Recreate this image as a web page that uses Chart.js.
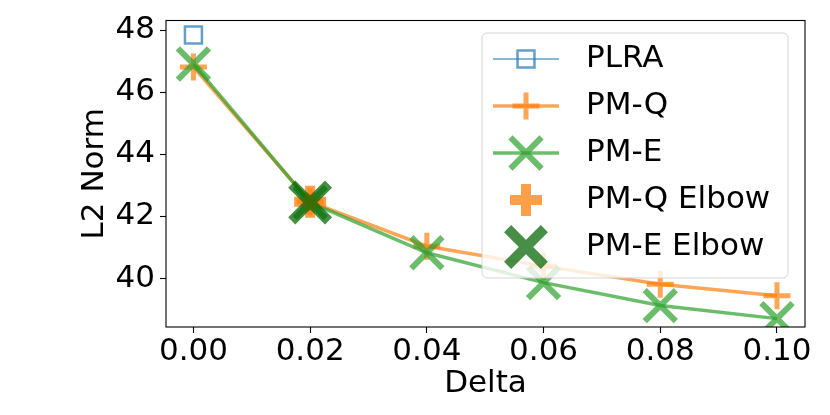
<!DOCTYPE html>
<html lang="en">
    <head>
        <meta charset="UTF-8" />
        <title>L2 Norm vs Delta</title>
        <script src="https://cdn.jsdelivr.net/npm/chart.js@4.4.1/dist/chart.umd.min.js"></script>
        <style>
            html, body { margin: 0; padding: 0; background: #fff; }
            #wrap { width: 830px; height: 415px; }
        </style>
    </head>
    <body>
        <div id="wrap"><canvas id="myChart" width="830" height="415"></canvas></div>
    </body>
    <script>
        const deltas = [0.0, 0.02, 0.04, 0.06, 0.08, 0.1];
        const plraX = [0.0];
        const plraY = [47.84];
        const pmqY = [46.81, 42.47, 41.04, 40.4, 39.82, 39.45];
        const pmeY = [46.91, 42.45, 40.83, 39.87, 39.13, 38.71];
        const pmqElbowX = [0.02];
        const pmqElbowY = [42.47];
        const pmeElbowX = [0.02];
        const pmeElbowY = [42.45];
        const xTicks = [0.0, 0.02, 0.04, 0.06, 0.08, 0.1];
        const yTicks = [40, 42, 44, 46, 48];

        const FONT = "'DejaVu Sans', sans-serif";
        const FSIZE = 31;

        function pts(xs, ys) {
            return xs.map((x, i) => ({ x: x, y: ys[i] }));
        }

        const styles = [
            { label: "PLRA", color: "rgba(31,119,180,0.7)", line: 1.5, point: "rect", r: 12, bw: 2.5, showLine: true },
            { label: "PM-Q", color: "rgba(255,127,14,0.7)", line: 3.5, point: "cross", r: 13.5, bw: 5, showLine: true },
            { label: "PM-E", color: "rgba(44,160,44,0.7)", line: 3.5, point: "crossRot", r: 22, bw: 6, showLine: true },
            { label: "PM-Q Elbow", color: "rgba(255,127,14,0.75)", line: 0, point: "cross", r: 16, bw: 10, showLine: false },
            { label: "PM-E Elbow", color: "rgba(0,100,0,0.72)", line: 0, point: "crossRot", r: 26, bw: 10, showLine: false },
        ];
        const series = [
            pts(plraX, plraY),
            pts(deltas, pmqY),
            pts(deltas, pmeY),
            pts(pmqElbowX, pmqElbowY),
            pts(pmeElbowX, pmeElbowY),
        ];

        // matplotlib style frame around the axes
        const framePlugin = {
            id: "frame",
            afterDatasetsDraw(chart) {
                const a = chart.chartArea;
                const ctx = chart.ctx;
                ctx.save();
                ctx.strokeStyle = "#000";
                ctx.lineWidth = 1.1;
                ctx.strokeRect(a.left, a.top, a.right - a.left, a.bottom - a.top);
                ctx.restore();
            },
        };

        // legend drawn inside the axes, upper right
        const legendPlugin = {
            id: "innerLegend",
            afterDraw(chart) {
                const ctx = chart.ctx;
                const bx = 482, by = 33, bw = 306, bh = 245, rad = 5;
                ctx.save();
                ctx.beginPath();
                ctx.roundRect(bx, by, bw, bh, rad);
                ctx.fillStyle = "rgba(255,255,255,0.8)";
                ctx.fill();
                ctx.strokeStyle = "rgba(204,204,204,0.8)";
                ctx.lineWidth = 1;
                ctx.stroke();
                styles.forEach((s, i) => {
                    const cy = 59 + i * 47;
                    if (s.showLine) {
                        ctx.beginPath();
                        ctx.moveTo(493, cy);
                        ctx.lineTo(559, cy);
                        ctx.strokeStyle = s.color;
                        ctx.lineWidth = s.line;
                        ctx.stroke();
                    }
                    ctx.strokeStyle = s.color;
                    ctx.fillStyle = "rgba(0,0,0,0)";
                    ctx.lineWidth = s.bw;
                    Chart.helpers.drawPoint(ctx, { pointStyle: s.point, radius: s.r, rotation: 0, borderWidth: s.bw }, 526, cy);
                    ctx.fillStyle = "#000";
                    ctx.font = FSIZE + "px " + FONT;
                    ctx.textAlign = "left";
                    ctx.textBaseline = "middle";
                    ctx.fillText(s.label, 586, cy);
                });
                ctx.restore();
            },
        };

        const chart = new Chart("myChart", {
            type: "scatter",
            data: {
                datasets: styles.map((s, i) => ({
                    label: s.label,
                    data: series[i],
                    showLine: s.showLine,
                    borderColor: s.color,
                    backgroundColor: "rgba(0,0,0,0)",
                    borderWidth: s.line,
                    pointStyle: s.point,
                    pointRadius: s.r,
                    pointHoverRadius: s.r,
                    pointBorderWidth: s.bw,
                    pointBorderColor: s.color,
                    pointBackgroundColor: "rgba(0,0,0,0)",
                    order: styles.length - 1 - i,
                })),
            },
            options: {
                responsive: false,
                animation: false,
                devicePixelRatio: 1,
                layout: { autoPadding: false, padding: { left: 0, right: 25, top: 16, bottom: 0 } },
                plugins: {
                    legend: { display: false },
                    tooltip: { enabled: false },
                },
                scales: {
                    x: {
                        type: "linear",
                        min: -0.0047,
                        max: 0.1048,
                        afterBuildTicks: (s) => { s.ticks = xTicks.map((v) => ({ value: v })); },
                        afterFit: (s) => { s.height = 88; },
                        border: { display: false },
                        grid: { display: true, drawOnChartArea: false, drawTicks: true, tickLength: 6, tickColor: "#000", tickWidth: 1.1 },
                        ticks: {
                            color: "#000",
                            padding: 3,
                            maxRotation: 0,
                            font: { family: FONT, size: FSIZE, lineHeight: 1.0 },
                            callback: (v) => v.toFixed(2),
                        },
                        title: {
                            display: true,
                            text: "Delta",
                            color: "#000",
                            font: { family: FONT, size: FSIZE, lineHeight: 1.2 },
                            padding: { top: 0, bottom: 12 },
                        },
                    },
                    y: {
                        type: "linear",
                        min: 38.44,
                        max: 48.31,
                        afterBuildTicks: (s) => { s.ticks = yTicks.map((v) => ({ value: v })); },
                        afterFit: (s) => { s.width = 166; },
                        border: { display: false },
                        grid: { display: true, drawOnChartArea: false, drawTicks: true, tickLength: 6, tickColor: "#000", tickWidth: 1.1 },
                        ticks: {
                            color: "#000",
                            padding: 5,
                            font: { family: FONT, size: FSIZE, lineHeight: 1.0 },
                            callback: (v) => String(v),
                        },
                        title: {
                            display: true,
                            text: "L2 Norm",
                            color: "#000",
                            font: { family: FONT, size: FSIZE, lineHeight: 1.2 },
                            padding: { top: 76, bottom: 0 },
                        },
                    },
                },
            },
            plugins: [framePlugin, legendPlugin],
        });
    </script>
</html>
